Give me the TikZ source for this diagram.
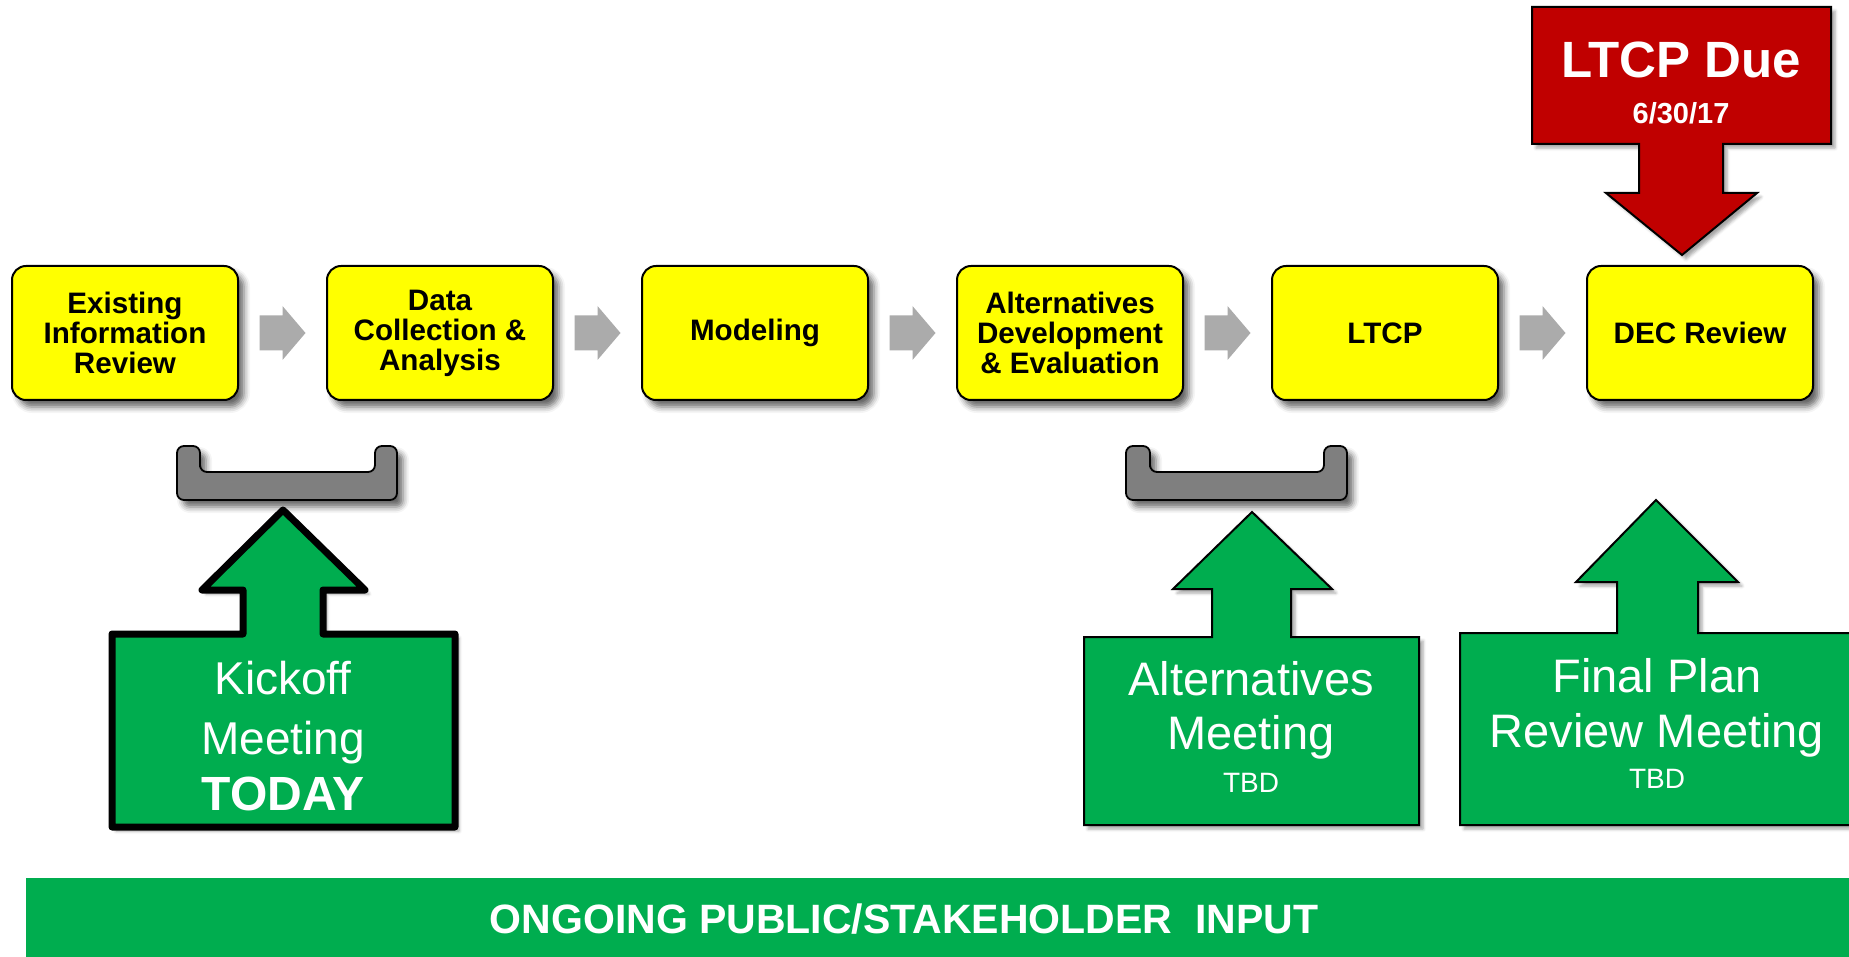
\documentclass[tikz,border=0pt]{standalone}
\usepackage{fontspec}
\setmainfont{Liberation Sans}
\usetikzlibrary{calc,shadows.blur}

\definecolor{stepyellow}{HTML}{FFFF00}
\definecolor{meetgreen}{HTML}{00AD4F}
\definecolor{duered}{HTML}{C00000}
\definecolor{bracketgray}{HTML}{7F7F7F}
\definecolor{flowgray}{HTML}{ABABAB}

\begin{document}
\begin{tikzpicture}[x=0.5pt,y=-0.5pt,
  softshadow/.style={blur shadow={shadow xshift=3pt,shadow yshift=-3.5pt,shadow blur radius=3pt,shadow opacity=60}},
  stepbox/.style={draw=black,line width=1pt,fill=stepyellow,rounded corners=7pt,
    minimum width=113pt,minimum height=67pt,inner sep=0pt,align=center,
    font=\bfseries\fontsize{14.8}{15}\selectfont,softshadow},
  flowarrow/.style={fill=flowgray},
  bracket/.style={draw=black,line width=0.9pt,fill=bracketgray,rounded corners=3.5pt,softshadow},
  meetcallout/.style={draw=black,line width=1pt,fill=meetgreen,line join=miter,
    blur shadow={shadow xshift=2pt,shadow yshift=-2pt,shadow blur radius=1.5pt,shadow opacity=35}},
  duecallout/.style={draw=black,line width=1pt,fill=duered,
    blur shadow={shadow xshift=2pt,shadow yshift=-2pt,shadow blur radius=1.5pt,shadow opacity=35}},
  bigtext/.style={anchor=base,text=white,inner sep=0pt,font=\fontsize{23.5}{23.5}\selectfont},
  smalltext/.style={anchor=base,text=white,inner sep=0pt,font=\fontsize{14}{14}\selectfont},
]
\useasboundingbox (0,0) rectangle (1849,957);
\clip (0,0) rectangle (1849,957);

% ---- process steps ----
\node[stepbox] (b1) at (125,333) {Existing\\Information\\Review};
\node[stepbox] (b2) at (440,333) {Data\\Collection \&\\Analysis};
\node[stepbox] (b3) at (755,333) {Modeling};
\node[stepbox] (b4) at (1070,333) {Alternatives\\Development\\\& Evaluation};
\node[stepbox] (b5) at (1385,333) {LTCP};
\node[stepbox] (b6) at (1700,333) {DEC Review};

% ---- block arrows between the steps ----
\foreach \i/\j in {1/2,2/3,3/4,4/5,5/6}{
  \coordinate (g\i) at ($(b\i.east)!0.5!(b\j.west)$);
  \fill[flowarrow] ($(g\i)+(-23,-17.5)$) -- ($(g\i)+(0,-17.5)$) -- ($(g\i)+(0,-27)$)
    -- ($(g\i)+(23,0)$) -- ($(g\i)+(0,27)$) -- ($(g\i)+(0,17.5)$)
    -- ($(g\i)+(-23,17.5)$) -- cycle;
}

% ---- brackets under the steps ----
\draw[bracket] (200,460) -- (200,446) -- (177,446) -- (177,500) -- (397,500)
  -- (397,446) -- (375,446) -- (375,472) -- (200,472) -- cycle;
\draw[bracket] (1150,460) -- (1150,446) -- (1126,446) -- (1126,500) -- (1347,500)
  -- (1347,446) -- (1324,446) -- (1324,472) -- (1150,472) -- cycle;

% ---- kickoff meeting callout ----
\draw[meetcallout,line width=3.5pt,line join=round] (112,634) -- (243,634) -- (243,590) -- (202,590)
  -- (283,510) -- (365,590) -- (323,590) -- (323,634) -- (455,634)
  -- (455,827) -- (112,827) -- cycle;
\node[bigtext,font=\fontsize{23}{23}\selectfont] (k1) at (283,694) {Kickoff};
\node[bigtext,font=\fontsize{23}{23}\selectfont] (k2) at (283,754) {Meeting};
\node[bigtext,font=\bfseries\fontsize{24}{24}\selectfont] (k3) at (283,810) {TODAY};

% ---- alternatives meeting callout ----
\draw[meetcallout] (1084,637) -- (1212,637) -- (1212,589) -- (1173,589)
  -- (1252,512) -- (1332,589) -- (1291,589) -- (1291,637) -- (1419,637)
  -- (1419,825) -- (1084,825) -- cycle;
\node[bigtext] (a1) at (1251,695) {Alternatives};
\node[bigtext] (a2) at (1251,749) {Meeting};
\node[smalltext] (a3) at (1251,792) {TBD};

% ---- final plan review meeting callout ----
\draw[meetcallout] (1460,633) -- (1617,633) -- (1617,582) -- (1576,582)
  -- (1656,500) -- (1738,582) -- (1698,582) -- (1698,633) -- (1860,633)
  -- (1860,825) -- (1460,825) -- cycle;
\node[bigtext] (f1) at (1657,692) {Final Plan};
\node[bigtext] (f2) at (1657,747) {Review Meeting};
\node[smalltext] (f3) at (1657,788) {TBD};

% ---- due date callout ----
\draw[duecallout] (1532,7) -- (1831,7) -- (1831,144) -- (1723,144) -- (1723,193)
  -- (1757,193) -- (1682,255) -- (1606,193) -- (1639,193) -- (1639,144)
  -- (1532,144) -- cycle;
\node[anchor=base,text=white,inner sep=0pt,font=\bfseries\fontsize{25.5}{25.5}\selectfont] (d1) at (1681,78) {LTCP Due};
\node[anchor=base,text=white,inner sep=0pt,font=\bfseries\fontsize{14.5}{14.5}\selectfont] (d2) at (1681,124) {6/30/17};

% ---- input banner ----
\fill[meetgreen] (26,878) rectangle (1849,957);
\node[anchor=base,text=white,inner sep=0pt,font=\bfseries\fontsize{20.5}{20.5}\selectfont] (input) at (904,933) {ONGOING PUBLIC/STAKEHOLDER\ \ INPUT};
\end{tikzpicture}
\end{document}
